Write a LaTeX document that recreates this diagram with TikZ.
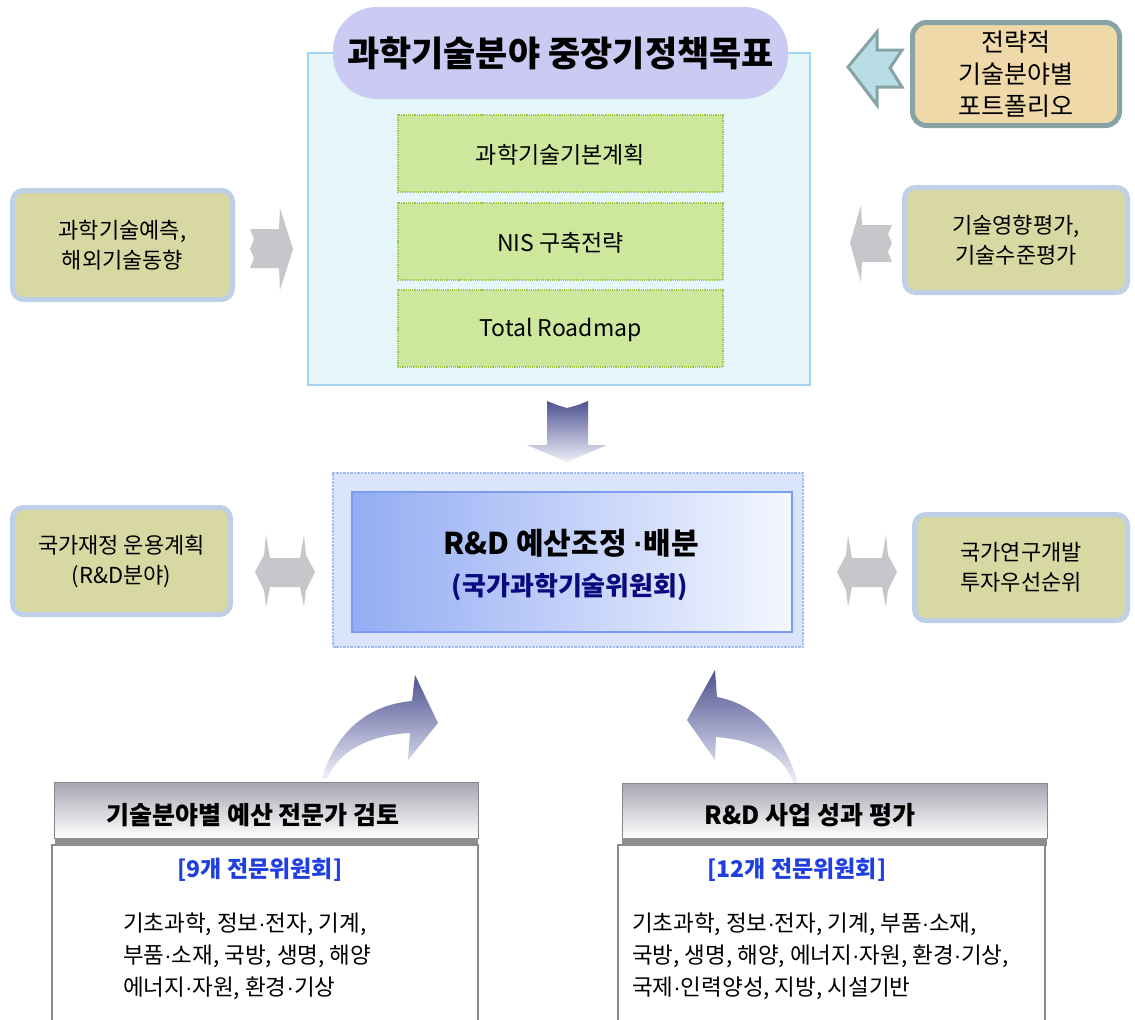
\documentclass[tikz,border=0pt]{standalone}
\usepackage{fontspec}
\setmainfont{Noto Sans CJK KR}
\newfontfamily\dotfont{Liberation Sans}
\usetikzlibrary{calc}
\newcommand\myfs[2]{\fontsize{#1bp}{#2bp}\selectfont}
\newcommand\mdot{{\dotfont ·}}
\definecolor{topfill}{HTML}{E6F7FB}
\definecolor{topline}{HTML}{A6D2F2}
\definecolor{pillfill}{HTML}{CACAF2}
\definecolor{greenfill}{HTML}{CDE79C}
\definecolor{greenline}{HTML}{9CC84A}
\definecolor{sidefill}{HTML}{D8D8A2}
\definecolor{sideline}{HTML}{BDD0E6}
\definecolor{pffill}{HTML}{EFD9A8}
\definecolor{pfline}{HTML}{87A3A6}
\definecolor{chevfill}{HTML}{B8DDE4}
\definecolor{grayarrow}{HTML}{C7C7CB}
\definecolor{navyarrow}{HTML}{4E5290}
\definecolor{palearrow}{HTML}{EEF0FA}
\definecolor{outerfill}{HTML}{DAE5FB}
\definecolor{outerline}{HTML}{A4BEF4}
\definecolor{innerleft}{HTML}{93ACF3}
\definecolor{innerright}{HTML}{F4F7FF}
\definecolor{innerline}{HTML}{7C9CF0}
\definecolor{committee}{HTML}{1F3FE0}
\definecolor{navytext}{HTML}{0A0A80}
\definecolor{hdrtop}{HTML}{A6A6B2}
\definecolor{hdrbar}{HTML}{8E8E90}
\definecolor{bodyline}{HTML}{8A8A8A}
\begin{document}
\begin{tikzpicture}[x=1bp,y=-1bp,
  every node/.style={inner sep=0pt, outer sep=0pt},
  mainbox/.style={draw=topline, line width=1.5bp, fill=topfill},
  pill/.style={fill=pillfill, rounded corners=44bp, font=\myfs{35}{40}\bfseries},
  greenbox/.style={draw=greenline, densely dotted, line width=1.2bp, fill=greenfill, font=\myfs{23}{28}},
  sidebox/.style={draw=sideline, line width=5bp, fill=sidefill, rounded corners=11bp, align=center, font=\myfs{22}{30}},
  pfbox/.style={draw=pfline, line width=5bp, fill=pffill, rounded corners=14bp, align=center, font=\myfs{25}{32}},
  grayshape/.style={fill=grayarrow},
  navyshape/.style={top color=navyarrow, bottom color=palearrow},
  hdr/.style={draw=hdrtop!80!black, line width=1bp, top color=hdrtop, bottom color=white, font=\myfs{25}{30}\bfseries},
  hdrstrip/.style={fill=hdrbar},
  bodybox/.style={draw=bodyline, line width=1.2bp, fill=white},
  committeetext/.style={text=committee, font=\myfs{23}{28}\bfseries},
  listtext/.style={align=left, font=\myfs{22.5}{32}}
]
\useasboundingbox (0,0) rectangle (1135,1020);
\fill[white] (0,0) rectangle (1135,1020);

% top block
\node[mainbox, minimum width=502bp, minimum height=332bp] (plan) at (559,219) {};
\node[pill, minimum width=455bp, minimum height=92bp] (goal) at (560.5,53) {과학기술분야 중장기정책목표};
\node[greenbox, minimum width=325bp, minimum height=77bp] (basic) at (560.5,153.5) {};
\node[font=\myfs{23}{28}] (basict) at (560.5,155) {과학기술기본계획};
\node[greenbox, minimum width=325bp, minimum height=77bp] (nis) at (560.5,241.5) {};
\node[font=\myfs{23}{28}] (nist) at (560.5,243) {NIS 구축전략};
\node[greenbox, minimum width=325bp, minimum height=77bp] (road) at (560.5,328.5) {};
\node[font=\myfs{23}{28}] (roadt) at (560.5,330) {Total Roadmap};

% portfolio box + chevron
\node[pfbox, minimum width=207bp, minimum height=103bp] (pf) at (1016,74) {전략적\\기술분야별\\포트폴리오};
\draw[pfline, line width=3bp, fill=chevfill] (848,67) -- (877,32) -- (877,50) -- (902,50) -- (890,68) -- (902,87) -- (877,87) -- (877,105) -- cycle;

% side boxes top row
\node[sidebox, minimum width=220bp, minimum height=109bp] (fc) at (122.5,245) {과학기술예측,\\해외기술동향};
\node[sidebox, minimum width=223bp, minimum height=105bp] (ta) at (1016,240) {기술영향평가,\\기술수준평가};
\fill[grayshape] (250,229) -- (279,229) -- (280,208) -- (293,249) -- (280,290) -- (279,268) -- (250,268) -- (254,258) -- (250,249) -- (254,239) -- cycle;
\fill[grayshape] (892,225) -- (862,225) -- (861,205) -- (850,243) -- (861,282) -- (862,262) -- (892,262) -- (888,252) -- (892,243) -- (888,234) -- cycle;

% down arrow
\shade[navyshape] (547,401) -- (557,405) -- (567,408) -- (578,405) -- (588,401) -- (588,445) -- (607,445) -- (567,462) -- (527,445) -- (547,445) -- cycle;

% center block
\node[draw=outerline, densely dotted, line width=2.5bp, fill=outerfill, minimum width=470bp, minimum height=174bp] (council) at (568,560) {};
\node[draw=innerline, line width=1.5bp, left color=innerleft, right color=innerright, minimum width=440bp, minimum height=140bp] (councilin) at (572,562) {};
\node[font=\myfs{30}{36}\bfseries] (budgett) at (571,543) {R\&D 예산조정 \mdot 배분};
\node[font=\myfs{26}{30}\bfseries, text=navytext] (councilt) at (570,587) {(국가과학기술위원회)};

% side boxes middle row
\node[sidebox, minimum width=218bp, minimum height=107bp] (bp) at (121.5,561) {국가재정 운용계획\\(R\&D분야)};
\node[sidebox, minimum width=213bp, minimum height=106bp] (pr) at (1021,567.5) {국가연구개발\\투자우선순위};
\fill[grayshape] (255,572) -- (264,555) -- (266,535) -- (270,558) -- (300,558) -- (304,535) -- (306,555) -- (315,572) -- (306,590) -- (304,607) -- (300,587) -- (270,587) -- (266,607) -- (264,590) -- cycle;
\fill[grayshape] (837,572) -- (846,555) -- (848,535) -- (852,558) -- (882,558) -- (886,535) -- (888,555) -- (897,572) -- (888,590) -- (886,607) -- (882,587) -- (852,587) -- (848,607) -- (846,590) -- cycle;

% curved arrows
\shade[navyshape] (322,778) .. controls (335,735) and (365,705) .. (412,701) -- (415,675) -- (438,723) -- (408,760) -- (410,733) .. controls (370,735) and (340,750) .. (327,778) -- cycle;
\shade[navyshape] (798,783) .. controls (785,740) and (760,705) .. (717,697) -- (715,670) -- (687,720) -- (715,760) -- (716,737) .. controls (755,740) and (785,755) .. (793,783) -- cycle;

% bottom left
\node[bodybox, minimum width=426bp, minimum height=190bp, anchor=north] (bl) at (265,845) {};
\node[hdr, minimum width=423bp, minimum height=56bp] (hl) at (266.5,810) {};
\node[hdrstrip, minimum width=423bp, minimum height=8bp] (hlbar) at (266.5,842) {};
\node[font=\myfs{25}{30}\bfseries] (hlt) at (253,815) {기술분야별 예산 전문가 검토};
\node[committeetext] (c9) at (260,870) {[9개 전문위원회]};
\node[listtext, anchor=west] (ll) at (123,956) {기초과학, 정보\mdot 전자, 기계,\\부품\mdot 소재, 국방, 생명, 해양\\에너지\mdot 자원, 환경\mdot 기상};

% bottom right
\node[bodybox, minimum width=427bp, minimum height=190bp, anchor=north] (br) at (831.5,845) {};
\node[hdr, minimum width=425bp, minimum height=55bp] (hr) at (834.5,810.5) {};
\node[hdrstrip, minimum width=425bp, minimum height=8bp] (hrbar) at (834.5,842) {};
\node[font=\myfs{25}{30}\bfseries] (hrt) at (810,815) {R\&D 사업 성과 평가};
\node[committeetext] (c12) at (797,870) {[12개 전문위원회]};
\node[listtext, anchor=west] (rl) at (632,956) {기초과학, 정보\mdot 전자, 기계, 부품\mdot 소재,\\국방, 생명, 해양, 에너지\mdot 자원, 환경\mdot 기상,\\국제\mdot 인력양성, 지방, 시설기반};
\end{tikzpicture}
\end{document}
